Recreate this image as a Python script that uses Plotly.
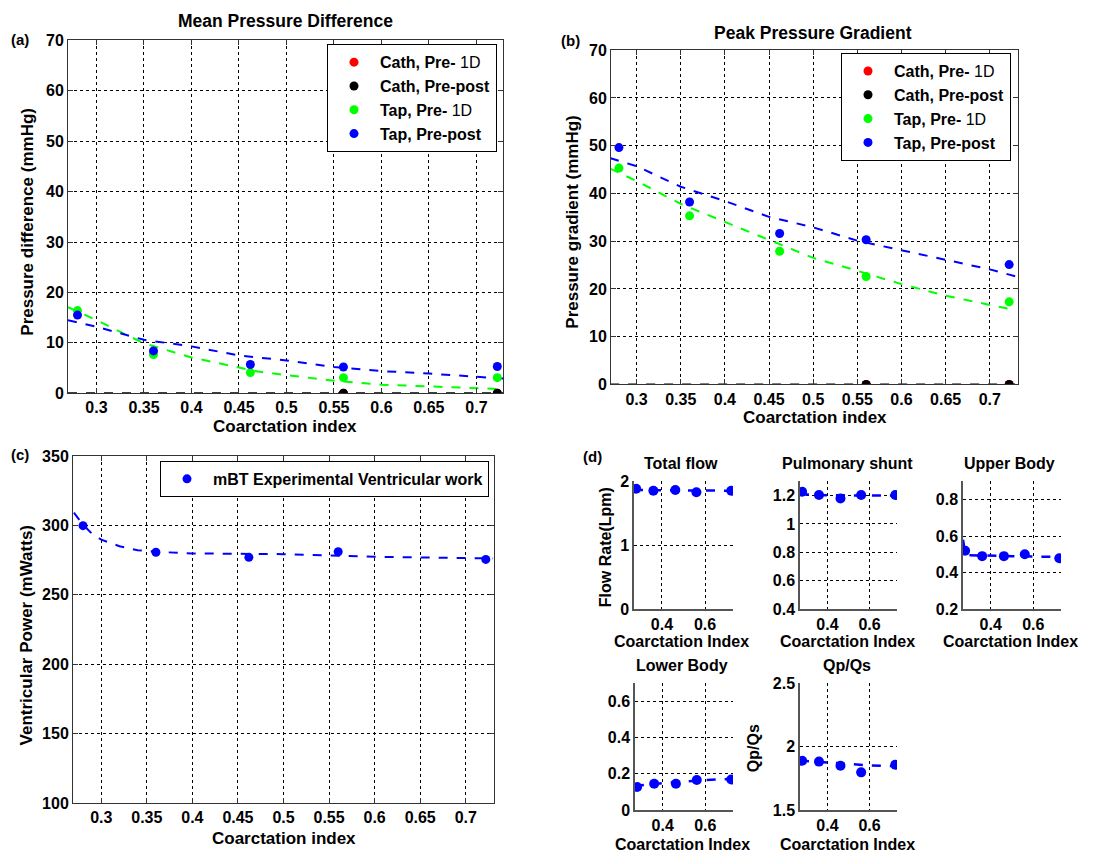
import plotly.graph_objects as go

W, H = 1096, 864
F = "Liberation Sans, Arial, sans-serif"

# ---------------- data ----------------
ci = [0.28, 0.36, 0.462, 0.56, 0.722]
ci_cath = [0.56, 0.722]

# (a) Mean pressure difference
a_cath_1d = [0, 0]
a_cath_pp = [0, 0]
a_tap_1d = [16.4, 7.7, 4.1, 3.1, 3.1]
a_tap_pp = [15.5, 8.4, 5.7, 5.2, 5.3]
fit_x = [0.27, 0.30, 0.35, 0.40, 0.45, 0.47, 0.50, 0.55, 0.60, 0.65, 0.70, 0.73]
a_fit_1d = [17.1, 14.5, 9.9, 7.1, 5.1, 4.3, 3.6, 2.5, 1.7, 1.4, 1.0, 0.8]
a_fit_pp = [14.5, 13.2, 10.6, 9.3, 7.5, 7.1, 6.5, 5.2, 4.4, 3.9, 3.2, 2.9]
a_fit_cath = [0, 0, 0, 0, 0, 0, 0, 0, 0, 0, 0, 0]

# (b) Peak pressure gradient
b_cath_1d = [0, 0]
b_cath_pp = [0, 0]
b_tap_1d = [45.3, 35.3, 27.9, 22.6, 17.3]
b_tap_pp = [49.6, 38.2, 31.6, 30.3, 25.1]
b_fit_1d = [45.2, 42.6, 37.8, 34.0, 30.3, 28.8, 26.5, 23.8, 21.0, 18.6, 16.6, 15.5]
b_fit_pp = [47.4, 45.7, 41.4, 38.4, 35.1, 34.2, 32.9, 30.1, 28.1, 26.2, 24.1, 22.6]
b_fit_cath = [0, 0, 0, 0, 0, 0, 0, 0, 0, 0, 0, 0]

# (c) Ventricular power
c_work = [299.8, 280.7, 277.0, 281.0, 275.5]
c_fit_x = [0.27, 0.28, 0.29, 0.30, 0.32, 0.34, 0.36, 0.40, 0.50, 0.55, 0.60, 0.70, 0.73]
c_fit = [309.2, 300.5, 293.9, 289.7, 285.0, 282.1, 281.0, 279.8, 279.3, 278.4, 277.4, 276.5, 276.2]

# (d) flow rates
d_fit_x = [0.27, 0.28, 0.30, 0.40, 0.50, 0.60, 0.73]
total_flow = [1.887, 1.856, 1.867, 1.83, 1.856]
total_fit = [1.87, 1.868, 1.865, 1.862, 1.86, 1.858, 1.855]
pulm_shunt = [1.228, 1.205, 1.18, 1.205, 1.205]
pulm_fit = [1.215, 1.212, 1.208, 1.203, 1.201, 1.2, 1.2]
upper_body = [0.52, 0.49, 0.49, 0.50, 0.478]
upper_fit = [0.58, 0.51, 0.495, 0.491, 0.49, 0.488, 0.485]
lower_body = [0.127, 0.145, 0.145, 0.166, 0.168]
lower_fit = [0.13, 0.132, 0.136, 0.148, 0.158, 0.165, 0.172]
qpqs = [1.888, 1.882, 1.849, 1.797, 1.857]
qpqs_fit = [1.89, 1.889, 1.886, 1.875, 1.862, 1.852, 1.845]

RED, BLACK, GREEN, BLUE = "#ff0000", "#000000", "#00ff00", "#0000ff"


def px(x):
    return x / W


def py(y):
    return 1 - y / H


fig = go.Figure()


def pts(x, y, color, xa, ya, name=None, legend=None, size=9):
    fig.add_trace(go.Scatter(
        x=x, y=y, mode="markers", name=name,
        marker=dict(color=color, size=size, symbol="circle"),
        xaxis=xa, yaxis=ya, showlegend=name is not None,
        legend=legend, legendgroup=name))


def fit(x, y, color, xa, ya, width=2):
    fig.add_trace(go.Scatter(
        x=x, y=y, mode="lines", line=dict(color=color, width=width, dash="dash"),
        xaxis=xa, yaxis=ya, showlegend=False, hoverinfo="skip"))


sub = "<span style='font-weight:normal'>1D</span>"
names = ["Cath, Pre- " + sub, "Cath, Pre-post", "Tap, Pre- " + sub, "Tap, Pre-post"]

# (a)
fit(fit_x, a_fit_cath, BLACK, "x", "y")
fit(fit_x, a_fit_1d, GREEN, "x", "y")
fit(fit_x, a_fit_pp, BLUE, "x", "y")
pts(ci_cath, a_cath_1d, RED, "x", "y", names[0], "legend")
pts(ci_cath, a_cath_pp, BLACK, "x", "y", names[1], "legend")
pts(ci, a_tap_1d, GREEN, "x", "y", names[2], "legend")
pts(ci, a_tap_pp, BLUE, "x", "y", names[3], "legend")

# (b)
fit(fit_x, b_fit_cath, BLACK, "x2", "y2")
fit(fit_x, b_fit_1d, GREEN, "x2", "y2")
fit(fit_x, b_fit_pp, BLUE, "x2", "y2")
pts(ci_cath, b_cath_1d, RED, "x2", "y2", names[0], "legend2")
pts(ci_cath, b_cath_pp, BLACK, "x2", "y2", names[1], "legend2")
pts(ci, b_tap_1d, GREEN, "x2", "y2", names[2], "legend2")
pts(ci, b_tap_pp, BLUE, "x2", "y2", names[3], "legend2")

# (c)
fit(c_fit_x, c_fit, BLUE, "x3", "y3")
pts(ci, c_work, BLUE, "x3", "y3", "mBT Experimental Ventricular work", "legend3")

# (d)
for k, (vals, fv) in enumerate([(total_flow, total_fit), (pulm_shunt, pulm_fit),
                                 (upper_body, upper_fit), (lower_body, lower_fit),
                                 (qpqs, qpqs_fit)]):
    xa, ya = "x%d" % (k + 4), "y%d" % (k + 4)
    fit(d_fit_x, fv, BLUE, xa, ya, width=2.5)
    pts(ci, vals, BLUE, xa, ya, size=10)

tickfont = dict(family=F, size=16, color="black", weight="bold")
grid = dict(showgrid=True, gridcolor="black", griddash="3px,3px", gridwidth=1, zeroline=False)
bold = dict(tickprefix="<b>", ticksuffix="</b>")


def box_axis(domain, rng, dtick, tick0):
    return dict(domain=domain, range=rng, dtick=dtick, tick0=tick0, showline=True,
                linecolor="#333", linewidth=1, mirror="allticks", ticks="inside",
                ticklen=5, tickcolor="#333", tickfont=tickfont, **grid, **bold)


def d_axis(domain, rng, tickvals):
    return dict(domain=domain, range=rng, tickvals=tickvals, showline=True,
                linecolor="#555", linewidth=1.5, mirror=False, ticks="",
                tickfont=tickfont, **grid, **bold)


layout = dict(
    width=W, height=H, margin=dict(l=0, r=0, t=0, b=0),
    paper_bgcolor="white", plot_bgcolor="white", font=dict(family=F, color="black"),
    xaxis=box_axis([px(68), px(503)], [0.27, 0.728], 0.05, 0.3),
    yaxis=box_axis([py(393), py(33)], [0, 70], 10, 0),
    xaxis2=box_axis([px(611), px(1018)], [0.271, 0.732], 0.05, 0.3),
    yaxis2=box_axis([py(384), py(43)], [0, 70], 10, 0),
    xaxis3=box_axis([px(73), px(494)], [0.269, 0.731], 0.05, 0.3),
    yaxis3=box_axis([py(811), py(457)], [100, 350], 50, 100),
)
d_specs = [
    ((634, 733), (483, 613), [0, 2], [0, 1, 2]),
    ((800, 897), (483, 613), [0.4, 1.3], [0.4, 0.6, 0.8, 1.0, 1.2]),
    ((963, 1061), (483, 613), [0.2, 0.9], [0.2, 0.4, 0.6, 0.8]),
    ((635, 733), (689, 818), [0, 0.7], [0, 0.2, 0.4, 0.6]),
    ((800, 897), (689, 818), [1.5, 2.5], [1.5, 2, 2.5]),
]
for k, (xs, ys, yr, yt) in enumerate(d_specs):
    n = k + 4
    layout["xaxis%d" % n] = d_axis([px(xs[0]), px(xs[1])], [0.27, 0.73], [0.4, 0.6])
    layout["yaxis%d" % n] = d_axis([py(ys[1]), py(ys[0])], yr, yt)
    layout["xaxis%d" % n]["anchor"] = "y%d" % n
    layout["yaxis%d" % n]["anchor"] = "x%d" % n
layout["xaxis2"]["anchor"] = "y2"
layout["yaxis2"]["anchor"] = "x2"
layout["xaxis3"]["anchor"] = "y3"
layout["yaxis3"]["anchor"] = "x3"

legfont = dict(family=F, size=16, color="black", weight="bold")
leg = dict(bgcolor="white", bordercolor="black", borderwidth=1, font=legfont,
           xanchor="right", yanchor="top", itemwidth=42, tracegroupgap=0)
layout["legend"] = dict(leg, x=px(497), y=py(37))
layout["legend2"] = dict(leg, x=px(1011), y=py(46))
layout["legend3"] = dict(leg, x=px(489), y=py(462))

fig.update_layout(**layout)


def ann(text, x, y, size=16, angle=0, bold=True):
    fig.add_annotation(text=text, x=px(x), y=py(y), xref="paper", yref="paper",
                       showarrow=False, textangle=angle, xanchor="center", yanchor="middle",
                       font=dict(family=F, size=size, color="black",
                                 weight="bold" if bold else "normal"))


# panel labels
ann("(a)", 20, 32, 15)
ann("(b)", 570, 33, 15)
ann("(c)", 20, 455, 15)
ann("(d)", 592, 458, 15)
# titles
ann("Mean Pressure Difference", 285, 13, 17.5)
ann("Peak Pressure Gradient", 813, 25, 17.5)
# axis titles
ann("Coarctation index", 285, 427, 17)
ann("Pressure difference (mmHg)", 28, 218, 17, angle=-90)
ann("Coarctation index", 815, 418, 17)
ann("Pressure gradient (mmHg)", 573, 218, 17, angle=-90)
ann("Coarctation index", 284, 847, 17)
ann("Ventricular Power (mWatts)", 26, 640, 17, angle=-90)
# (d) titles
ann("Total flow", 681, 465, 16)
ann("Pulmonary shunt", 847, 465, 16)
ann("Upper Body", 1009, 465, 16)
ann("Lower Body", 682, 671, 16)
ann("Qp/Qs", 847, 671, 16)
ann("Coarctation Index", 681, 646, 16)
ann("Coarctation Index", 847, 646, 16)
ann("Coarctation Index", 1010, 646, 16)
ann("Coarctation Index", 682, 853, 16)
ann("Coarctation Index", 847, 853, 16)
ann("Flow Rate(Lpm)", 605, 550, 16, angle=-90)
ann("Qp/Qs", 753, 755, 16, angle=-90)

fig.write_html("out.html")
